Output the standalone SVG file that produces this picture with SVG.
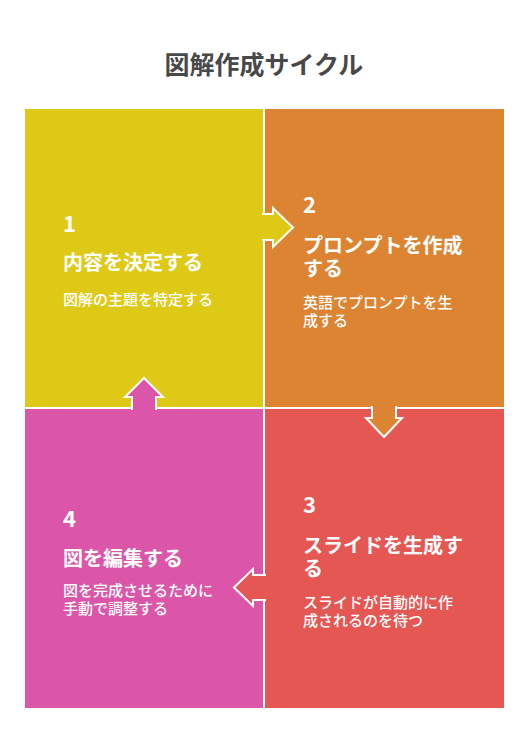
<svg xmlns="http://www.w3.org/2000/svg" width="528" height="756" viewBox="0 0 528 756">
<style>
.t{font-family:"Noto Sans CJK JP","Noto Sans",sans-serif;fill:#fff}
.num{font-size:22px;font-weight:700}
.hd{font-size:20px;font-weight:700}
.ds{font-size:15px;font-weight:500}
.title{font-family:"Noto Sans CJK JP","Noto Sans",sans-serif;font-size:25px;font-weight:700;fill:#484848}
.arr{stroke:#fff;stroke-width:2;stroke-linejoin:miter}
</style>
<rect width="528" height="756" fill="#fff"/>
<text class="title" x="264" y="74" text-anchor="middle">図解作成サイクル</text>
<g id="node1">
<rect x="25" y="109" width="238" height="298" fill="#DEC916"/>
</g>
<g id="node2">
<rect x="265" y="109" width="239" height="298" fill="#DD8432"/>
</g>
<g id="node3">
<rect x="265" y="409" width="239" height="299" fill="#E45753"/>
</g>
<g id="node4">
<rect x="25" y="409" width="238" height="299" fill="#DB56A8"/>
</g>
<g id="connectors">
<path class="arr" fill="#DEC916" d="M262,214 H273 V208 L293,227.5 L273,247 V240 H262"/>
<path class="arr" fill="#DD8432" d="M372,406 V418 H366 L384,437 L402,418 H396 V406"/>
<path class="arr" fill="#E45753" d="M266,575 H253 V569 L234,587.5 L253,606 V600 H266"/>
<path class="arr" fill="#DB56A8" d="M132,410 V397 H125 L144,378 L163,397 H156 V410"/>
</g>
<g id="labels1">
<text class="t num" x="63" y="232">1</text>
<text class="t hd" x="63" y="270">内容を決定する</text>
<text class="t ds" x="63" y="305">図解の主題を特定する</text>
</g>
<g id="labels2">
<text class="t num" x="303" y="213">2</text>
<text class="t hd" x="303" y="253">プロンプトを作成<tspan x="303" dy="23">する</tspan></text>
<text class="t ds" x="303" y="308">英語でプロンプトを生<tspan x="303" dy="18">成する</tspan></text>
</g>
<g id="labels3">
<text class="t num" x="303" y="513">3</text>
<text class="t hd" x="303" y="553">スライドを生成す<tspan x="303" dy="23">る</tspan></text>
<text class="t ds" x="303" y="608">スライドが自動的に作<tspan x="303" dy="18">成されるのを待つ</tspan></text>
</g>
<g id="labels4">
<text class="t num" x="63" y="527">4</text>
<text class="t hd" x="63" y="566">図を編集する</text>
<text class="t ds" x="63" y="596">図を完成させるために<tspan x="63" dy="18">手動で調整する</tspan></text>
</g>
</svg>
